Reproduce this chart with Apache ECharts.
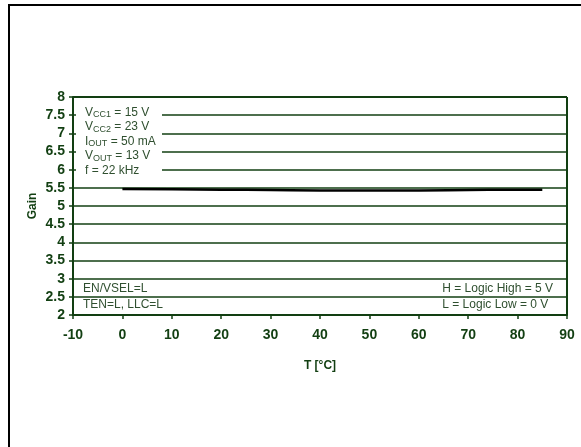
<!DOCTYPE html>
<html><head><meta charset="utf-8">
<script src="https://cdn.jsdelivr.net/npm/echarts@6/dist/echarts.min.js"></script>
<style>html,body{margin:0;padding:0;background:#fff}#c{width:581px;height:447px}</style>
</head><body><div id="c"></div>
<script>
const temps = [0, 10, 20, 30, 40, 50, 60, 70, 80, 85];
const gain = [5.47, 5.46, 5.45, 5.44, 5.43, 5.43, 5.43, 5.44, 5.45, 5.45];
const xTicks = [-10, 0, 10, 20, 30, 40, 50, 60, 70, 80, 90];
const yTicks = [2, 2.5, 3, 3.5, 4, 4.5, 5, 5.5, 6, 6.5, 7, 7.5, 8];

const green = '#123f12';
const txt = '#2f4f2f';
const chart = echarts.init(document.getElementById('c'));
const sub = {fontSize: 9, verticalAlign: 'bottom', padding: [6,0,0,0], color: txt, fontFamily: 'Liberation Sans'};
chart.setOption({
  animation: false,
  grid: {left: 73, right: 14, top: 97, bottom: 132, show: false},
  xAxis: {
    type: 'value', min: -10, max: 90, interval: 10,
    name: 'T [°C]', nameLocation: 'middle', nameGap: 45,
    nameTextStyle: {fontFamily: 'Liberation Sans', fontWeight: 'bold', fontSize: 12, color: green},
    axisLine: {show: true, onZero: false, lineStyle: {color: green, width: 2}},
    axisTick: {show: true, length: 4, lineStyle: {color: green, width: 1.5}},
    axisLabel: {fontFamily: 'Liberation Sans', fontWeight: 'bold', fontSize: 14, color: green, margin: 13,
      formatter: v => xTicks.includes(v) ? String(v) : ''},
    splitLine: {show: false}
  },
  yAxis: {
    type: 'value', min: 2, max: 8, interval: 0.5,
    name: 'Gain', nameLocation: 'middle', nameGap: 40, nameRotate: 90, nameMoveOverlap: false,
    nameTextStyle: {fontFamily: 'Liberation Sans', fontWeight: 'bold', fontSize: 12, color: green,
      align: 'center', verticalAlign: 'middle'},
    axisLine: {show: true, onZero: false, lineStyle: {color: green, width: 2}},
    axisTick: {show: true, length: 4, lineStyle: {color: green, width: 1.5}},
    axisLabel: {fontFamily: 'Liberation Sans', fontWeight: 'bold', fontSize: 14, color: green, margin: 8,
      formatter: v => yTicks.includes(v) ? String(v) : ''},
    splitLine: {show: true, lineStyle: {color: green, width: 1.5}}
  },
  series: [{
    type: 'line', data: temps.map((t, i) => [t, gain[i]]), smooth: true, symbol: 'none',
    lineStyle: {color: '#000', width: 2.5}, z: 3
  }, {
    type: 'line', data: [], markLine: {silent: true, symbol: 'none', label: {show: false},
      lineStyle: {color: green, width: 2, type: 'solid'}, data: [{xAxis: 90}, {yAxis: 8}]}
  }],
  graphic: [
    {type: 'rect', left: 8, top: 4, shape: {width: 581, height: 2}, style: {fill: '#000'}},
    {type: 'rect', left: 8, top: 4, shape: {width: 2, height: 447}, style: {fill: '#000'}},
    {type: 'rect', left: 76, top: 102, z: 10, shape: {width: 86, height: 80}, style: {fill: '#fff'}},
    {type: 'text', left: 85, top: 105, z: 11, style: {
      text: 'V{s|CC1} = 15 V\nV{s|CC2} = 23 V\nI{s|OUT} = 50 mA\nV{s|OUT} = 13 V\nf = 22 kHz',
      fontFamily: 'Liberation Sans', fontSize: 12, fill: txt, lineHeight: 14.5,
      rich: {s: sub}
    }},
    {type: 'text', left: 83, top: 281, z: 11, style: {
      text: 'EN/VSEL=L\nTEN=L, LLC=L', fontFamily: 'Liberation Sans', fontSize: 12, fill: txt, lineHeight: 16
    }},
    {type: 'text', right: 28, top: 281, z: 11, style: {
      text: 'H = Logic High = 5 V\nL = Logic Low = 0 V', fontFamily: 'Liberation Sans', fontSize: 12, fill: txt, lineHeight: 16
    }}
  ]
});
</script></body></html>
